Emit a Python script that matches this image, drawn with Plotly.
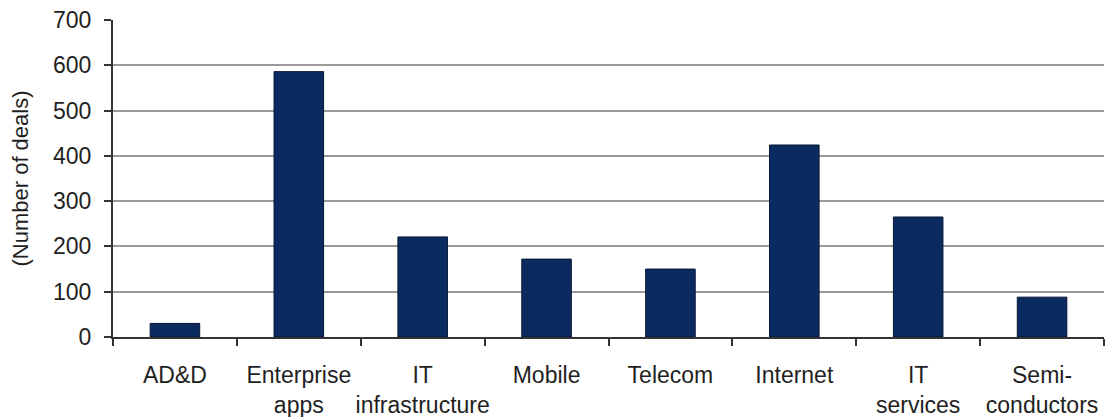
import plotly.graph_objects as go

# Deal counts by technology sector
categories = [
    "AD&D",
    "Enterprise<br>apps",
    "IT<br>infrastructure",
    "Mobile",
    "Telecom",
    "Internet",
    "IT<br>services",
    "Semi-<br>conductors",
]
deals = [30, 586, 221, 172, 150, 424, 265, 88]

y_ticks = [0, 100, 200, 300, 400, 500, 600, 700]

FONT = "Liberation Sans, Arial, sans-serif"
TEXT = "#1f1f1f"

fig = go.Figure(
    go.Bar(
        x=categories,
        y=deals,
        marker=dict(color="#0b2b60", line=dict(color="#071634", width=1)),
        width=0.4,
    )
)

fig.update_layout(
    width=1107,
    height=417,
    margin=dict(l=113, r=3, t=20, b=80, autoexpand=False),
    paper_bgcolor="white",
    plot_bgcolor="white",
    showlegend=False,
    font=dict(family=FONT, size=23, color=TEXT),
)

fig.update_xaxes(
    type="category",
    automargin=False,
    tickangle=0,
    showgrid=False,
    showline=True,
    linecolor="#333333",
    linewidth=2,
    ticks="outside",
    tickson="boundaries",
    ticklen=7,
    tickwidth=2,
    tickcolor="#333333",
    ticklabelstandoff=16,
    tickfont=dict(family=FONT, size=23, color=TEXT),
)

fig.update_yaxes(
    range=[0, 700],
    automargin=False,
    tickvals=y_ticks,
    ticktext=[str(v) for v in y_ticks],
    showgrid=True,
    gridcolor="#9a9a9a",
    gridwidth=2,
    showline=True,
    linecolor="#333333",
    linewidth=2,
    ticks="outside",
    ticklen=7,
    tickwidth=2,
    tickcolor="#333333",
    ticklabelstandoff=8,
    zeroline=False,
    tickfont=dict(family=FONT, size=23, color=TEXT),
    title=dict(text="(Number of deals)", font=dict(family=FONT, size=22, color=TEXT), standoff=18),
)

fig.write_html("out.html")
